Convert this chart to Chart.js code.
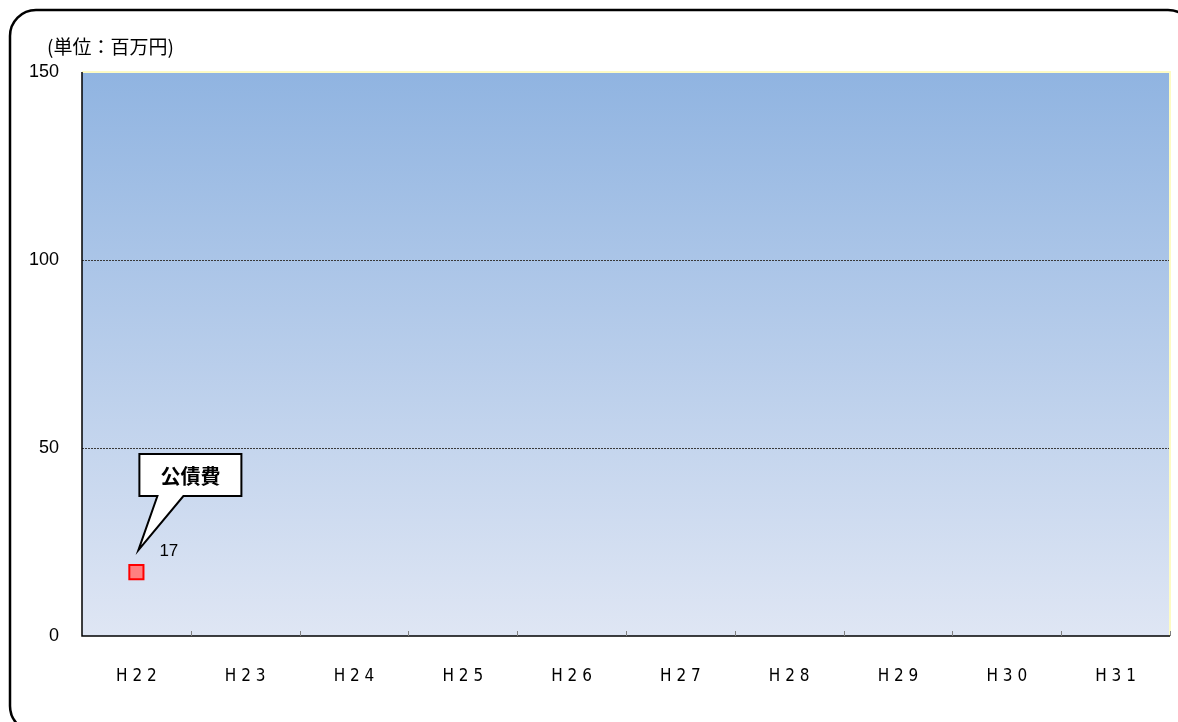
<!DOCTYPE html>
<html lang="ja">
<head>
    <meta charset="UTF-8" />
    <title>公債費</title>
    <script src="https://cdn.jsdelivr.net/npm/chart.js"></script>
    <style>
        html, body { margin: 0; padding: 0; background: #ffffff; }
        canvas { display: block; }
    </style>
</head>
<body>
<canvas id="grafico" width="1178" height="722"></canvas>

<script>
    // === datos ===
    const nendo = ["H 2 2", "H 2 3", "H 2 4", "H 2 5", "H 2 6", "H 2 7", "H 2 8", "H 2 9", "H 3 0", "H 3 1"];
    const kosaihi = [17, null, null, null, null, null, null, null, null, null];
    const yTicks = [0, 50, 100, 150];
    const tani = "(単位：百万円)";
    const serieNombre = "公債費";

    const jpFont = "'Noto Sans CJK JP', 'Liberation Sans', sans-serif";

    // fondo degradado + bordes del área
    const fondo = {
        id: "fondo",
        beforeDraw(chart) {
            const { ctx, chartArea: a } = chart;
            const g = ctx.createLinearGradient(0, a.top, 0, a.bottom);
            g.addColorStop(0, "#90b4e1");
            g.addColorStop(1, "#dfe6f4");
            ctx.save();
            ctx.fillStyle = g;
            ctx.fillRect(a.left, a.top, a.right - a.left, a.bottom - a.top);
            ctx.restore();
        },
        afterDatasetsDraw(chart) {
            const { ctx, chartArea: a, scales } = chart;
            const x = scales.x;
            ctx.save();
            // bordes amarillos (arriba, derecha)
            ctx.strokeStyle = "#fdfbc4";
            ctx.lineWidth = 2;
            ctx.beginPath();
            ctx.moveTo(a.left, a.top);
            ctx.lineTo(a.right, a.top);
            ctx.lineTo(a.right, a.bottom);
            ctx.stroke();
            // ejes negros
            ctx.strokeStyle = "#000000";
            ctx.lineWidth = 1.5;
            ctx.beginPath();
            ctx.moveTo(a.left, a.top);
            ctx.lineTo(a.left, a.bottom);
            ctx.lineTo(a.right, a.bottom);
            ctx.stroke();
            // marcas de categoría hacia adentro
            ctx.strokeStyle = "#808080";
            ctx.lineWidth = 1;
            const half = (x.getPixelForValue(1) - x.getPixelForValue(0)) / 2;
            for (let i = 0; i < nendo.length; i++) {
                const px = Math.round(x.getPixelForValue(i) + half) + 0.5;
                ctx.beginPath();
                ctx.moveTo(px, a.bottom);
                ctx.lineTo(px, a.bottom - 5);
                ctx.stroke();
            }
            ctx.restore();
        },
        afterDraw(chart) {
            const { ctx, scales } = chart;
            ctx.save();
            // marco redondeado
            ctx.strokeStyle = "#000000";
            ctx.lineWidth = 2.5;
            ctx.beginPath();
            ctx.roundRect(10, 10, 1184, 722, 26);
            ctx.stroke();

            // unidad
            ctx.fillStyle = "#000000";
            ctx.font = "19px " + jpFont;
            ctx.textAlign = "left";
            ctx.textBaseline = "middle";
            ctx.fillText(tani, 47, 47);

            // globo con el nombre de la serie
            const px = scales.x.getPixelForValue(0);
            const py = scales.y.getPixelForValue(kosaihi[0]);
            const bx = px + 3, by = py - 118, bw = 102, bh = 42;
            ctx.fillStyle = "#ffffff";
            ctx.strokeStyle = "#000000";
            ctx.lineWidth = 2;
            ctx.lineJoin = "miter";
            ctx.beginPath();
            ctx.moveTo(bx, by);
            ctx.lineTo(bx + bw, by);
            ctx.lineTo(bx + bw, by + bh);
            ctx.lineTo(bx + 44, by + bh);
            ctx.lineTo(px + 2, py - 22);
            ctx.lineTo(bx + 18, by + bh);
            ctx.lineTo(bx, by + bh);
            ctx.closePath();
            ctx.fill();
            ctx.stroke();
            ctx.fillStyle = "#000000";
            ctx.font = "bold 20px " + jpFont;
            ctx.textAlign = "center";
            ctx.fillText(serieNombre, bx + bw / 2, by + bh / 2 + 1);

            // etiqueta del valor
            ctx.font = "17px 'Liberation Sans', Arial, sans-serif";
            ctx.textAlign = "left";
            ctx.fillText(String(kosaihi[0]), px + 23, py - 21);
            ctx.restore();
        }
    };

    new Chart(document.getElementById("grafico"), {
        type: "line",
        data: {
            labels: nendo,
            datasets: [{
                label: serieNombre,
                data: kosaihi,
                showLine: false,
                pointStyle: "rect",
                pointRadius: 10,
                pointHoverRadius: 10,
                pointBackgroundColor: "#ff8080",
                pointBorderColor: "#ff0000",
                pointBorderWidth: 2
            }]
        },
        options: {
            responsive: false,
            devicePixelRatio: 1,
            animation: false,
            events: [],
            layout: { autoPadding: false, padding: { left: 0, top: 72, right: 8, bottom: 0 } },
            plugins: {
                legend: { display: false },
                tooltip: { enabled: false }
            },
            scales: {
                x: {
                    offset: true,
                    border: { display: false },
                    grid: { display: false, drawTicks: false },
                    ticks: {
                        color: "#000000",
                        padding: 30,
                        font: { family: "'DejaVu Sans Condensed', sans-serif", size: 17 }
                    },
                    afterFit(scale) {
                        scale.height = 86;
                        scale.paddingLeft = 0;
                        scale.paddingRight = 0;
                    }
                },
                y: {
                    min: 0,
                    max: 150,
                    border: { display: false, dash: [2, 1] },
                    afterBuildTicks(scale) { scale.ticks = yTicks.map(v => ({ value: v })); },
                    grid: {
                        drawTicks: false,
                        color: (c) => (c.tick.value === 50 || c.tick.value === 100) ? "#3a3a3a" : "rgba(0,0,0,0)",
                        lineWidth: 1
                    },
                    ticks: {
                        color: "#000000",
                        padding: 23,
                        font: { family: "'Liberation Sans', Arial, sans-serif", size: 18 }
                    },
                    afterFit(scale) { scale.width = 82; }
                }
            }
        },
        plugins: [fondo]
    });
</script>
</body>
</html>
